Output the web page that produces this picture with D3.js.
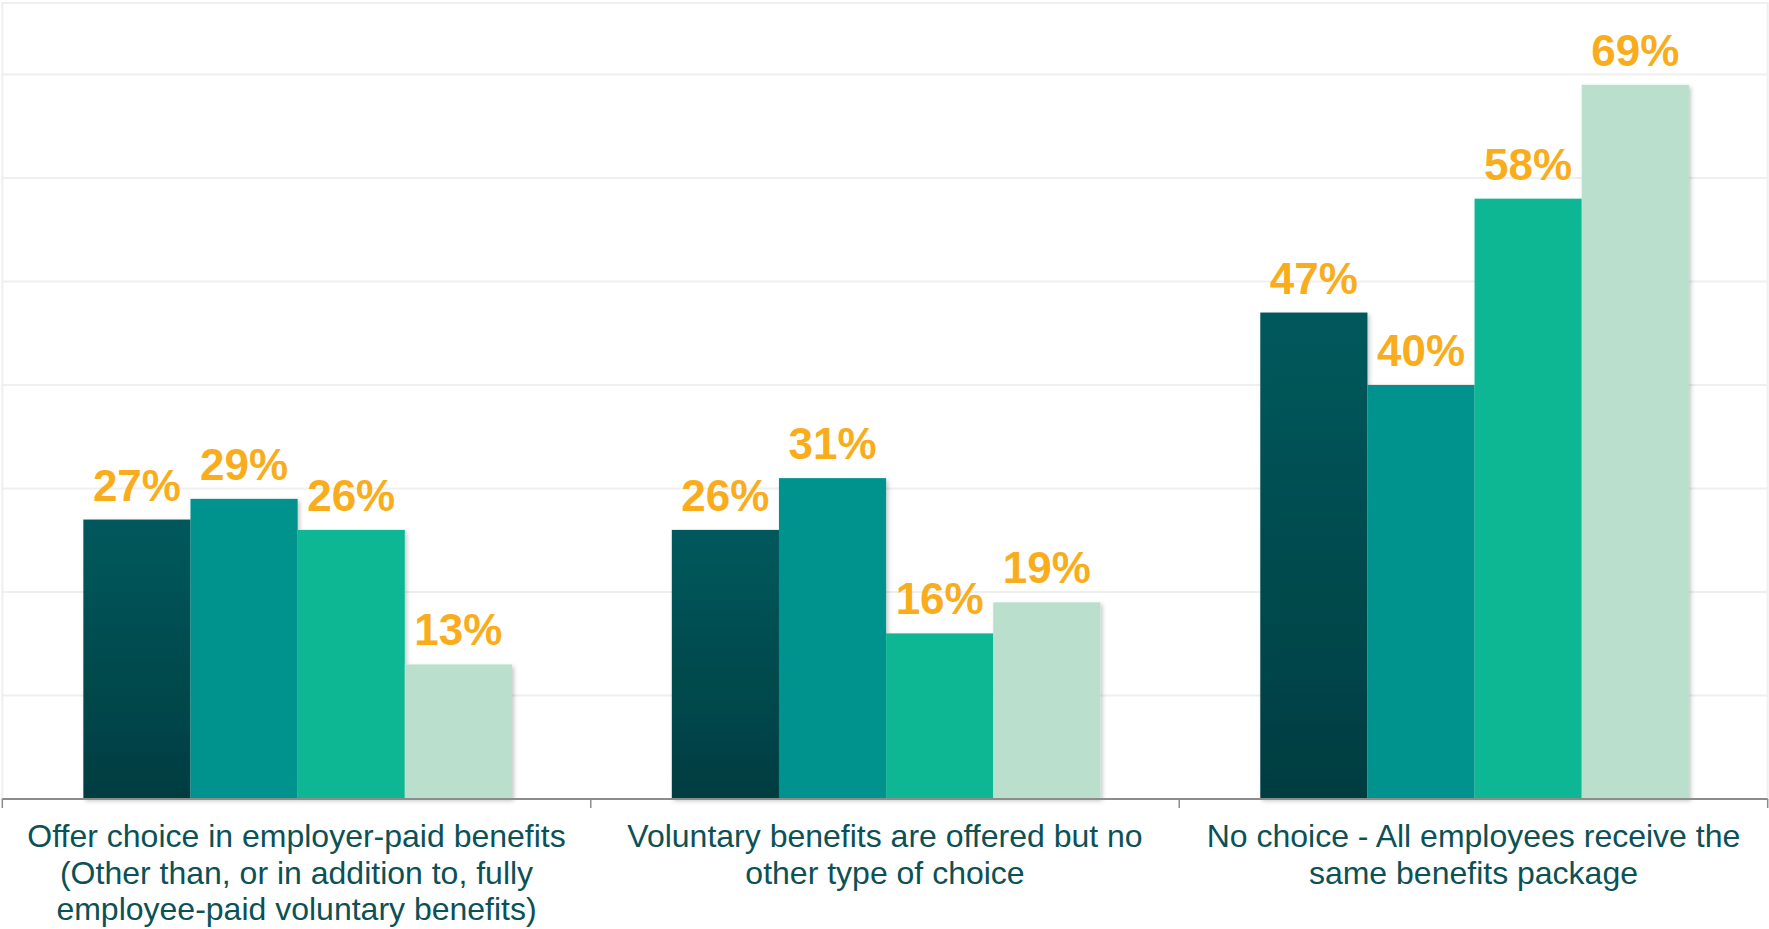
<!DOCTYPE html>
<html>
<head>
<meta charset="utf-8">
<script src="https://cdn.jsdelivr.net/npm/d3@7/dist/d3.min.js"></script>
<style>
  html, body { margin: 0; padding: 0; background: #ffffff; }
  svg { display: block; }
</style>
</head>
<body>
<svg id="chart" width="1769" height="929"></svg>
<script>
// Category groups along the x axis, each label split into its display lines
const categories = [
  "Offer choice in employer-paid benefits",
  "Voluntary benefits are offered but no other type of choice",
  "No choice - All employees receive the same benefits package"
];
const categoryLines = [
  ["Offer choice in employer-paid benefits", "(Other than, or in addition to, fully", "employee-paid voluntary benefits)"],
  ["Voluntary benefits are offered but no", "other type of choice"],
  ["No choice - All employees receive the", "same benefits package"]
];

// Four series, one value (percent) per category
const seriesNames = ["Series 1", "Series 2", "Series 3", "Series 4"];
const series1 = [27, 26, 47];
const series2 = [29, 31, 40];
const series3 = [26, 16, 58];
const series4 = [13, 19, 69];
const seriesValues = [series1, series2, series3, series4];

// Gridline values (percent)
const gridTicks = [10, 20, 30, 40, 50, 60, 70];

const colors = ["url(#gradDark)", "#00938E", "#10B794", "#BBDFCD"];

const svg = d3.select("#chart");
const plotLeft = 2.3, plotRight = 1767.7, plotTop = 3, plotBottom = 799;

const x0 = d3.scaleBand().domain(categories).range([plotLeft, plotRight]).paddingInner(0).paddingOuter(0);
const x1 = d3.scaleBand().domain(seriesNames).range([0, x0.bandwidth()])
  .paddingInner(0).paddingOuter(0.746).align(0.507);
const y = d3.scaleLinear().domain([0, 70]).range([plotBottom, 74.5]);

const defs = svg.append("defs");
const g = defs.append("linearGradient").attr("id", "gradDark").attr("x1", 0).attr("y1", 0).attr("x2", 0).attr("y2", 1);
g.append("stop").attr("offset", "0%").attr("stop-color", "#03595C");
g.append("stop").attr("offset", "100%").attr("stop-color", "#013D41");
const f = defs.append("filter").attr("id", "shadow").attr("x", "-10%").attr("y", "-10%").attr("width", "130%").attr("height", "130%");
f.append("feDropShadow").attr("dx", 2).attr("dy", 2).attr("stdDeviation", 2).attr("flood-color", "#000").attr("flood-opacity", 0.22);

// Plot-area frame and horizontal gridlines
svg.append("rect")
  .attr("x", plotLeft).attr("y", plotTop).attr("width", plotRight - plotLeft).attr("height", plotBottom - plotTop)
  .attr("fill", "none").attr("stroke", "#EFEFEF").attr("stroke-width", 2);
svg.append("g").selectAll("line").data(gridTicks).join("line")
  .attr("x1", plotLeft).attr("x2", plotRight)
  .attr("y1", d => y(d)).attr("y2", d => y(d))
  .attr("stroke", "#EFEFEF").attr("stroke-width", 2);

// Bars
const rows = categories.map((c, i) => ({ cat: c, vals: seriesNames.map((s, j) => ({ s, j, v: seriesValues[j][i] })) }));
const groups = svg.append("g").selectAll("g").data(rows).join("g")
  .attr("transform", d => `translate(${x0(d.cat)},0)`);
groups.append("g").attr("filter", "url(#shadow)")
  .selectAll("rect").data(d => d.vals).join("rect")
  .attr("x", d => x1(d.s)).attr("width", x1.bandwidth())
  .attr("y", d => y(d.v)).attr("height", d => y(0) - y(d.v))
  .attr("fill", d => colors[d.j]);

// Value labels
groups.selectAll("text.val").data(d => d.vals).join("text")
  .attr("class", "val")
  .attr("x", d => x1(d.s) + x1.bandwidth() / 2)
  .attr("y", d => y(d.v) - 19)
  .attr("text-anchor", "middle")
  .attr("font-family", "Liberation Sans, Arial, sans-serif")
  .attr("font-weight", "bold")
  .attr("font-size", 44)
  .attr("fill", "#F9AD1D")
  .text(d => d.v + "%");

// X axis with ticks at the category boundaries
const axis = svg.append("g");
axis.append("line").attr("x1", plotLeft).attr("x2", plotRight).attr("y1", plotBottom).attr("y2", plotBottom)
  .attr("stroke", "#8C8C8C").attr("stroke-width", 2);
const boundaries = categories.map(c => x0(c)).concat([plotRight]);
axis.selectAll("line.tick").data(boundaries).join("line")
  .attr("class", "tick")
  .attr("x1", d => d).attr("x2", d => d).attr("y1", plotBottom).attr("y2", plotBottom + 9)
  .attr("stroke", "#8C8C8C").attr("stroke-width", 1.5);

// Category labels
const catText = svg.append("g").selectAll("text").data(categories).join("text")
  .attr("x", d => x0(d) + x0.bandwidth() / 2)
  .attr("y", 847)
  .attr("text-anchor", "middle")
  .attr("font-family", "Liberation Sans, Arial, sans-serif")
  .attr("font-size", 32)
  .attr("fill", "#0B5155");
catText.selectAll("tspan").data((d, i) => categoryLines[i]).join("tspan")
  .attr("x", function() { return d3.select(this.parentNode).attr("x"); })
  .attr("dy", (d, i) => i === 0 ? 0 : 36.5)
  .text(d => d);
</script>
</body>
</html>
